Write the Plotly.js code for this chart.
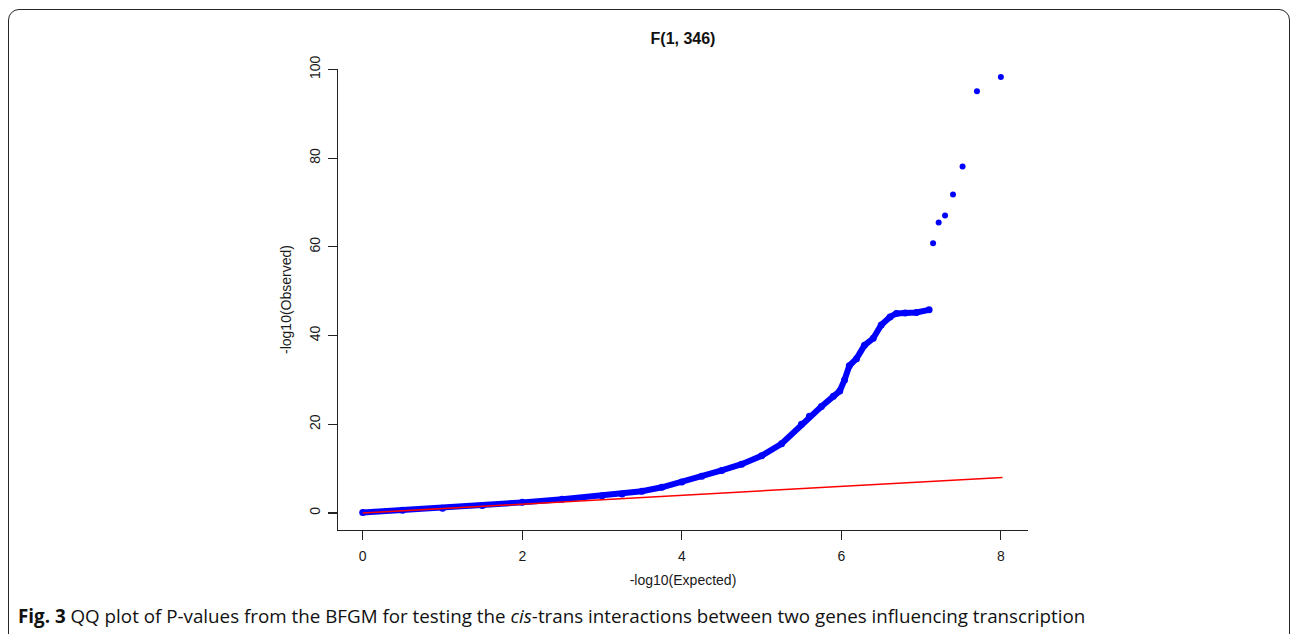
<!DOCTYPE html>
<html>
<head>
<meta charset="utf-8">
<script src="https://cdn.plot.ly/plotly-3.0.1.min.js"></script>
<style>
  html, body { margin: 0; padding: 0; background: #ffffff; }
  #wrap { position: relative; width: 1292px; height: 634px; overflow: hidden; }
  #chart { position: absolute; left: 0; top: 0; width: 1292px; height: 634px; }
  #frame { position: absolute; left: 8px; top: 9px; width: 1282px; height: 700px;
           border: 1.8px solid #262626; border-radius: 11px; pointer-events: none; box-sizing: border-box; }
</style>
</head>
<body>
<div id="wrap">
  <div id="frame"></div>
  <div id="chart"></div>
</div>
<script>
// Main QQ curve (expected vs observed -log10 p)
const expectedCurve = [0, 0.5, 1.0, 1.5, 2.0, 2.5, 3.0, 3.25, 3.5, 3.75, 4.0, 4.25, 4.5, 4.75, 5.0, 5.25, 5.5, 5.6, 5.75, 5.9, 5.98, 6.04, 6.1, 6.19, 6.29, 6.4, 6.5, 6.61, 6.69, 6.8, 6.94, 7.1];
const observedCurve = [0.1, 0.6, 1.1, 1.7, 2.4, 3.1, 3.9, 4.3, 4.9, 5.8, 7.0, 8.3, 9.6, 11.0, 12.9, 15.6, 20.0, 21.8, 24.0, 26.3, 27.5, 30.0, 33.2, 34.8, 37.8, 39.4, 42.4, 44.2, 45.0, 45.1, 45.2, 45.8];
// Isolated top points
const expectedTop = [7.15, 7.22, 7.30, 7.40, 7.52, 7.70, 8.0];
const observedTop = [60.8, 65.5, 67.1, 71.8, 78.1, 95.1, 98.3];
// Reference line y = x
const refX = [0, 8.02];
const refY = [0, 8.02];

const xTicks = [0, 2, 4, 6, 8];
const yTicks = [0, 20, 40, 60, 80, 100];

const plotFont = 'Liberation Sans, Arial, Helvetica, sans-serif';
const W = 1292, H = 634;
const L = 338, R = 1028, T = 69, B = 530;

const traces = [
  { x: expectedCurve, y: observedCurve, type: 'scatter', mode: 'lines+markers',
    line: { color: '#0000ff', width: 6 }, marker: { color: '#0000ff', size: 7 },
    hoverinfo: 'x+y', showlegend: false },
  { x: expectedTop, y: observedTop, type: 'scatter', mode: 'markers',
    marker: { color: '#0000ff', size: 6 }, hoverinfo: 'x+y', showlegend: false },
  { x: refX, y: refY, type: 'scatter', mode: 'lines',
    line: { color: '#ff0000', width: 1.6 }, hoverinfo: 'skip', showlegend: false }
];

const pw = R - L, ph = B - T;
const layout = {
  width: W, height: H,
  margin: { l: L, r: W - R, t: T, b: H - B, pad: 0 },
  paper_bgcolor: 'rgba(0,0,0,0)', plot_bgcolor: 'rgba(0,0,0,0)',
  font: { family: plotFont, color: '#1a1a1a', size: 14 },
  title: { text: '<b>F(1, 346)</b>', font: { family: plotFont, size: 16, color: '#111' },
           x: (683) / W, xanchor: 'center', xref: 'container',
           y: 1 - 38 / H, yanchor: 'middle', yref: 'container' },
  xaxis: {
    range: [-0.31, 8.34], tickvals: xTicks, ticktext: xTicks.map(String),
    showgrid: false, zeroline: false, showline: true, linecolor: '#222', linewidth: 1.2,
    ticks: 'outside', ticklen: 9, tickwidth: 1.2, tickcolor: '#222', ticklabelstandoff: 4,
    tickfont: { family: plotFont, size: 14, color: '#1a1a1a' },
    title: { text: '-log10(Expected)', font: { family: plotFont, size: 14, color: '#1a1a1a' }, standoff: 12 }
  },
  yaxis: {
    range: [-3.83, 100.1], tickvals: yTicks, ticktext: yTicks.map(String), tickangle: -90,
    showgrid: false, zeroline: false, showline: true, linecolor: '#222', linewidth: 1.2,
    ticks: 'outside', ticklen: 9, tickwidth: 1.2, tickcolor: '#222', ticklabelstandoff: 2,
    tickfont: { family: plotFont, size: 14, color: '#1a1a1a' },
    title: { text: '-log10(Observed)', font: { family: plotFont, size: 14, color: '#1a1a1a' }, standoff: 12 }
  },
  annotations: [
    { text: '<b>Fig. 3</b> QQ plot of P-values from the BFGM for testing the <i>cis</i>-trans interactions between two genes influencing transcription',
      xref: 'paper', yref: 'paper', x: (16 - L) / pw, y: (B - 616) / ph,
      xanchor: 'left', yanchor: 'middle', showarrow: false, align: 'left',
      font: { family: 'Open Sans, Noto Sans, sans-serif', size: 18.8, color: '#111' } }
  ]
};

Plotly.newPlot('chart', traces, layout, { displayModeBar: false, staticPlot: true });
</script>
</body>
</html>
